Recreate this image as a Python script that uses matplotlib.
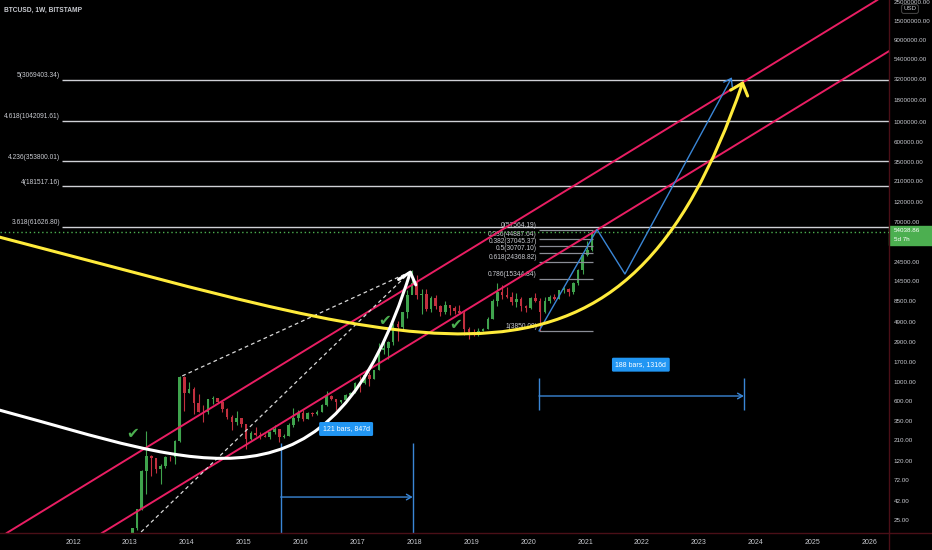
import matplotlib

matplotlib.use("Agg")

import matplotlib.pyplot as plt
import numpy as np
import pandas as pd
from matplotlib.lines import Line2D
from matplotlib.patches import FancyArrowPatch, Rectangle, ArrowStyle
from matplotlib.path import Path
from matplotlib.ticker import NullLocator

plt.rcParams['font.family'] = ['Liberation Sans', 'DejaVu Sans']

# ---- monthly BTCUSD candles (Bitstamp), Jan 2013 .. Feb 2021 ----
candle_start = "2013-01"
opens = [13.5, 20.4, 33.4, 93, 139, 129, 97, 106, 135, 133, 204, 1130,
         732, 812, 560, 450, 445, 630, 640, 585, 478, 387, 338, 378,
         320, 217, 254, 244, 236, 230, 263, 284, 230, 236, 314, 377,
         430, 368, 437, 416, 448, 531, 673, 624, 573, 609, 700, 742,
         966, 965, 1190, 1080, 1348, 2300, 2480, 2875, 4700, 4340, 6450, 9950,
         13860, 10100, 10300, 6925, 9250, 7500, 6400, 7730, 7020, 6620, 6300, 4020,
         3740, 3440, 3830, 4100, 5320, 8560, 10800, 10080, 9600, 8300, 9150, 7540,
         7190, 9350, 8520, 6410, 8620, 9450, 9140, 11350, 11650, 10780, 13800, 19700,
         28990, 33100]
highs = [20.4, 33.4, 95, 266, 140, 130, 112, 136, 139, 213, 1163, 1150,
         1000, 860, 710, 540, 630, 680, 650, 600, 490, 415, 460, 380,
         320, 265, 300, 261, 248, 268, 315, 285, 245, 333, 500, 468,
         465, 445, 440, 468, 550, 780, 705, 627, 620, 720, 755, 980,
         1150, 1200, 1290, 1350, 2790, 3000, 2980, 4750, 5000, 6470, 11400, 19660,
         17200, 11800, 11700, 9750, 9950, 7760, 8500, 7750, 7400, 7680, 6600, 4230,
         4100, 4200, 4140, 5600, 9000, 13880, 13200, 12330, 10950, 10500, 9500, 7750,
         9580, 10500, 9190, 9460, 10070, 10380, 11450, 12480, 12070, 14100, 19900, 29300,
         41950, 57564.19]
lows = [13.2, 19.1, 33, 50, 80, 88, 65, 100, 120, 110, 198, 455,
        730, 420, 440, 340, 420, 550, 565, 440, 365, 275, 315, 300,
        166, 212, 236, 215, 228, 215, 250, 198, 225, 235, 300, 350,
        350, 365, 395, 412, 440, 520, 605, 470, 570, 608, 680, 740,
        750, 940, 890, 1060, 1350, 2100, 1830, 2680, 2970, 4100, 5500, 10700,
        9000, 6000, 6600, 6425, 7000, 5750, 6100, 5880, 6100, 6200, 3500, 3150,
        3350, 3380, 3800, 4080, 5300, 7450, 9100, 9400, 7700, 7300, 6520, 6430,
        6850, 8450, 3850, 6150, 8100, 8900, 8960, 10530, 9880, 10400, 13200, 17600,
        28150, 32300]
closes = [20.4, 33.4, 93, 139, 129, 97, 106, 135, 133, 204, 1130, 732,
          812, 560, 450, 445, 630, 640, 585, 478, 387, 338, 378, 320,
          217, 254, 244, 236, 230, 263, 284, 230, 236, 314, 377, 430,
          368, 437, 416, 448, 531, 673, 624, 573, 609, 700, 742, 966,
          965, 1190, 1080, 1348, 2300, 2480, 2875, 4700, 4340, 6450, 9950, 13860,
          10100, 10300, 6925, 9250, 7500, 6400, 7730, 7020, 6620, 6300, 4020, 3740,
          3440, 3830, 4100, 5320, 8560, 10800, 10080, 9600, 8300, 9150, 7540, 7190,
          9350, 8520, 6410, 8620, 9450, 9140, 11350, 11650, 10780, 13800, 19700, 28990,
          33100, 54038.86]
last_price = 54038.86

# ---- fib extension (left labels) and fib retracement (2020 low -> 2021 high) ----
ext_ratios = ["5", "4.618", "4.236", "4", "3.618"]
ext_prices = [3069403.34, 1042091.61, 353800.01, 181517.16, 61626.80]
ret_ratios = ["0", "0.236", "0.382", "0.5", "0.618", "0.786", "1"]
ret_prices = [57564.19, 44887.64, 37045.37, 30707.10, 24368.82, 15344.84, 3850.00]
ext_start = 2011.81
ret_span = (2020.19, 2021.14)

# ---- drawings (year, price) ----
channel_upper = [(2013.0, 131.9), (2021.0, 221800)]
channel_lower = [(2013.0, 27.9), (2021.0, 46900)]
yellow_arc = [(2010.70, 47150), (2018.45, 2236), (2021.67, 282.6), (2023.78, 3013000)]
white_arc = [(2010.70, 469), (2014.23, 111.2), (2016.53, 21.3), (2017.94, 19560)]
blue_path = [(2020.19, 3850), (2021.21, 57564), (2021.70, 17590), (2023.58, 3325000)]
dashed_a = [(2013.92, 1163), (2017.93, 18700)]
dashed_b = [(2013.11, 16.0), (2017.93, 18700)]
checks = [(2013.05, 254), (2017.48, 5026), (2018.73, 4518)]

range_1 = {"x": (2015.65, 2017.97), "top": 194.6, "arrow": 46.1, "label": "121 bars, 847d", "at": (2016.80, 282.6)}
range_2 = {"x": (2020.19, 2023.79), "top": 1100, "bottom": 469, "arrow": 681, "label": "188 bars, 1316d", "at": (2021.98, 1569)}

y_ticks = [25, 42, 72, 120, 210, 350, 600, 1000, 1700, 2900, 4900, 8500, 14500, 24500,
           70000, 120000, 210000, 350000, 600000, 1000000, 1800000, 3200000, 5400000,
           9000000, 15000000, 25000000]
years = list(range(2012, 2027))

BG = "#000000"
GRID_RED = "#4a0f17"
TXT = "#c9cbd1"
PINK = "#e91e63"
BLUE = "#3a86d6"
GREEN_UP = "#3fa34d"
RED_DN = "#c2303f"
FS = 4.5

fig = plt.figure(figsize=(9.32, 5.5), dpi=100, facecolor=BG)
ax = fig.add_axes([0, 17 / 550, 889 / 932, 533 / 550])
ax.set_facecolor(BG)
ax.set_yscale("log")
ax.set_xlim(2010.717, 2026.341)
ax.set_ylim(17.68, 26.09e6)

# candles
months = pd.period_range(candle_start, periods=len(closes), freq="M")
cx = np.array([m.year + (m.month - 0.5) / 12 for m in months])
o, h, l, c = map(np.array, (opens, highs, lows, closes))
cols = np.where(c >= o, GREEN_UP, RED_DN)
ax.vlines(cx, l, h, colors=cols, lw=0.8, zorder=2)
ax.bar(cx, np.abs(c - o), bottom=np.minimum(o, c), width=0.045, color=cols, zorder=2, linewidth=0)

# channel
for p1, p2 in (channel_upper, channel_lower):
    ax.axline(p1, p2, color=PINK, lw=1.4, zorder=4)

# fib extension
ax.hlines(ext_prices, ext_start, 2027, color="#cfd1d6", lw=1.0, zorder=3)
for r, p in zip(ext_ratios, ext_prices):
    ax.annotate(f"{r}({p:.2f})", (ext_start, p), xytext=(-1.5, 0.6), textcoords="offset points",
                ha="right", va="bottom", color=TXT, fontsize=4.8)

# fib retracement
ax.hlines(ret_prices, ret_span[0], ret_span[1], color="#8a8d96", lw=0.9, zorder=3)
for r, p in zip(ret_ratios, ret_prices):
    ax.annotate(f"{r}({p:.2f})", (ret_span[0], p), xytext=(-1.5, 0.6), textcoords="offset points",
                ha="right", va="bottom", color=TXT, fontsize=4.8)

# last price dotted line
ax.axhline(last_price, color="#4caf50", lw=1.0, ls=(0, (1, 2)), zorder=3)

# dashed projection lines
for (x0, y0), (x1, y1) in (dashed_a, dashed_b):
    ax.plot([x0, x1], [y0, y1], color="#d8d8d8", lw=0.9, ls=(0, (3, 2.5)), zorder=4)

# curved arrows
cubic = [Path.MOVETO, Path.CURVE4, Path.CURVE4, Path.CURVE4]
for pts, col in ((yellow_arc, "#ffeb3b"), (white_arc, "#ffffff")):
    arr = FancyArrowPatch(path=Path(pts, cubic), transform=ax.transData,
                          arrowstyle=ArrowStyle("->", head_length=7.5, head_width=6.5),
                          mutation_scale=1, color=col, lw=2.2, capstyle="round",
                          joinstyle="round", zorder=6)
    ax.add_patch(arr)

blue = FancyArrowPatch(path=Path(blue_path, [Path.MOVETO] + [Path.LINETO] * 3), transform=ax.transData,
                       arrowstyle=ArrowStyle("->", head_length=5, head_width=3.5),
                       mutation_scale=1, color=BLUE, lw=1.0, zorder=5)
ax.add_patch(blue)

# check marks
for x, y in checks:
    ax.text(x, y, "\u2714", color="#4caf50", fontsize=11, ha="center", va="center",
            family=["DejaVu Sans"], zorder=7)

# date ranges
def date_range(rng, bottom):
    x0, x1 = rng["x"]
    ax.vlines([x0, x1], bottom, rng["top"], color=BLUE, lw=1.0, zorder=5)
    ax.annotate("", xy=(x1, rng["arrow"]), xytext=(x0, rng["arrow"]),
                arrowprops=dict(arrowstyle="->,head_length=0.35,head_width=0.2", color=BLUE,
                                lw=1.0, shrinkA=0, shrinkB=0), zorder=5)
    ax.text(*rng["at"], rng["label"], color="white", fontsize=5.0, ha="center", va="center", zorder=8,
            bbox=dict(boxstyle="round,pad=0.5,rounding_size=0.2", fc="#2196f3", ec="none"))

date_range(range_1, 10)
date_range(range_2, range_2["bottom"])

# axes
for s in ax.spines.values():
    s.set_visible(False)
ax.yaxis.tick_right()
ax.set_yticks(y_ticks)
ax.set_yticklabels([f"{t:.2f}" for t in y_ticks])
ax.yaxis.set_minor_locator(NullLocator())
ax.set_xticks(years)
ax.set_xticklabels([str(y) for y in years])
ax.tick_params(axis="y", length=0, pad=3.5, labelsize=FS, labelcolor=TXT)
ax.tick_params(axis="x", length=0, pad=4, labelsize=5.0, labelcolor=TXT)

fig.add_artist(Line2D([889 / 932, 889 / 932], [0, 1], color=GRID_RED, lw=1.0))
fig.add_artist(Line2D([0, 1], [17 / 550, 17 / 550], color=GRID_RED, lw=1.0))

# current price tag
fig.add_artist(Rectangle((889 / 932, 305 / 550), 43 / 932, 19 / 550, color="#4caf50", transform=fig.transFigure))
fig.text(894 / 932, 1 - 230.7 / 550, f"{last_price:.2f}", color="white", fontsize=FS, va="center")
fig.text(894 / 932, 1 - 239.5 / 550, "5d 7h", color="white", fontsize=FS, va="center")

fig.text(910 / 932, 1 - 9 / 550, "USD", color=TXT, fontsize=4.4, ha="center", va="center",
         bbox=dict(boxstyle="round,pad=0.3", fc=BG, ec="#555555", lw=0.6))

fig.text(4 / 932, 1 - 10 / 550, "BTCUSD, 1W, BITSTAMP", color=TXT, fontsize=4.8,
         fontweight="bold", va="center")

fig.savefig("out.png", dpi=100, facecolor=BG)
